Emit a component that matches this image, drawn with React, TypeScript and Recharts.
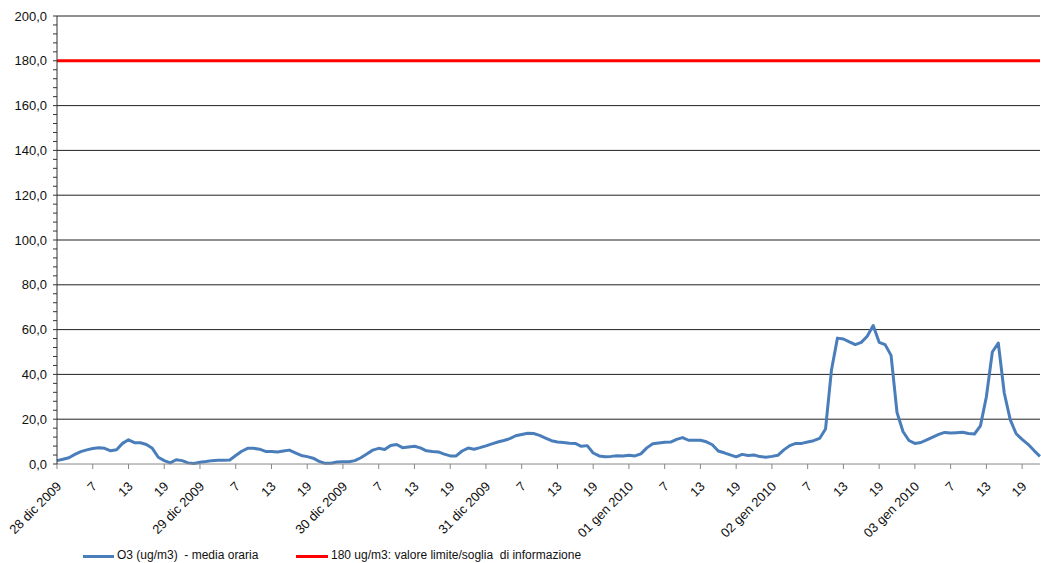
import React from "react";
import { LineChart, Line, XAxis, YAxis, CartesianGrid, Legend } from "recharts";

// hourly O3 values, 28 dic 2009 h1 -> 03 gen 2010
const o3Values = [
  1.5, 2.1, 2.8, 4.3, 5.5, 6.3, 6.9, 7.3, 7.0, 5.9, 6.4, 9.2, 10.8, 9.5, 9.5, 8.7, 7.0, 3.0, 1.5, 0.5, 1.9, 1.5, 0.5, 0.2,
  0.8, 1.1, 1.5, 1.7, 1.7, 1.8, 3.8, 5.7, 7.0, 7.0, 6.6, 5.6, 5.6, 5.4, 5.8, 6.2, 5.0, 3.8, 3.3, 2.6, 1.2, 0.3, 0.3, 0.9,
  1.0, 1.0, 1.5, 2.8, 4.5, 6.2, 7.0, 6.5, 8.3, 8.7, 7.3, 7.6, 7.9, 7.2, 5.9, 5.6, 5.4, 4.4, 3.6, 3.6, 5.8, 7.1, 6.6, 7.3,
  8.1, 9.0, 9.8, 10.5, 11.3, 12.6, 13.2, 13.7, 13.6, 12.8, 11.6, 10.4, 9.8, 9.6, 9.3, 9.2, 7.9, 8.2, 4.9, 3.6, 3.2, 3.4, 3.7, 3.6,
  3.9, 3.6, 4.5, 7.2, 9.0, 9.4, 9.7, 9.8, 11.0, 11.8, 10.6, 10.6, 10.6, 9.9, 8.6, 5.8, 5.0, 4.1, 3.2, 4.3, 3.8, 4.0, 3.3, 3.0,
  3.4, 3.9, 6.3, 8.2, 9.2, 9.2, 9.8, 10.4, 11.4, 15.6, 42, 56.2, 55.8, 54.5, 53.3, 54.3, 57, 61.8, 54.3, 53.3, 48.5, 23, 14.5, 10.5,
  9.2, 9.6, 10.8, 12.0, 13.2, 14.1, 13.8, 14.0, 14.2, 13.6, 13.4, 17, 30, 50, 54, 31.7, 19.8, 13.5, 11, 8.8, 6.0, 3.4,
];
const limitValue = 180;

const dateLabels = ["28 dic 2009", "29 dic 2009", "30 dic 2009", "31 dic 2009", "01 gen 2010", "02 gen 2010", "03 gen 2010"];
const hourLabels = ["7", "13", "19"];

const yTicks = Array.from({ length: 51 }, (_, k) => k * 4);
const gridValues = [20, 40, 60, 80, 100, 120, 140, 160, 180, 200];
const xTicks = Array.from({ length: 28 }, (_, k) => k * 6);

const data = o3Values.map((v, i) => ({ i, o3: v, limit: limitValue }));

const FONT = "'Liberation Sans', Arial, sans-serif";

function xLabel(i: number) {
  const k = i / 6;
  if (k % 4 === 0) return dateLabels[k / 4];
  return hourLabels[(k % 4) - 1];
}

function XTick(props: any) {
  const { x, y, payload } = props;
  return (
    <g transform={`translate(${x + 2},${y + 13})`}>
      <text x={0} y={0} dy="0.35em" textAnchor="end" transform="rotate(-45)" fill="#111" fontSize={13} fontFamily={FONT}>
        {xLabel(payload.value)}
      </text>
    </g>
  );
}

function LegendBox() {
  return (
    <div style={{ position: "relative", height: 29, fontFamily: FONT, fontSize: 12, color: "#111", whiteSpace: "pre" }}>
      <div style={{ position: "absolute", left: 83, top: 21, width: 31, height: 3, background: "#4a7ebb" }} />
      <div style={{ position: "absolute", left: 117, top: 14 }}>O3 (ug/m3)  - media oraria</div>
      <div style={{ position: "absolute", left: 296, top: 21, width: 32, height: 3, background: "#ff0000" }} />
      <div style={{ position: "absolute", left: 331, top: 14 }}>180 ug/m3: valore limite/soglia  di informazione</div>
    </div>
  );
}

export default function App() {
  return (
    <div style={{ position: "absolute", left: 0, top: 0, background: "#fff" }}>
      <LineChart width={1041} height={563} data={data} margin={{ top: 16, right: 1, left: 0, bottom: 0 }}>
        <CartesianGrid vertical={false} horizontalValues={gridValues} stroke="#222" strokeWidth={1} />
        <XAxis
          dataKey="i"
          type="number"
          domain={[0, 165]}
          ticks={xTicks}
          interval={0}
          height={70}
          tick={<XTick />}
          tickSize={5}
          axisLine={{ stroke: "#888" }}
          tickLine={{ stroke: "#888" }}
        />
        <YAxis
          domain={[0, 200]}
          ticks={yTicks}
          interval={0}
          width={57}
          tickSize={4}
          tickMargin={6}
          tickFormatter={(v: number) => (v % 20 === 0 ? v.toFixed(1).replace(".", ",") : "")}
          tick={{ fill: "#111", fontSize: 13, fontFamily: FONT }}
          axisLine={{ stroke: "#333" }}
          tickLine={{ stroke: "#333" }}
        />
        <Legend verticalAlign="bottom" content={<LegendBox />} wrapperStyle={{ height: 29 }} />
        <Line dataKey="limit" stroke="#ff0000" strokeWidth={3} dot={false} isAnimationActive={false} />
        <Line dataKey="o3" stroke="#4a7ebb" strokeWidth={3} dot={false} isAnimationActive={false} strokeLinejoin="round" />
      </LineChart>
    </div>
  );
}
